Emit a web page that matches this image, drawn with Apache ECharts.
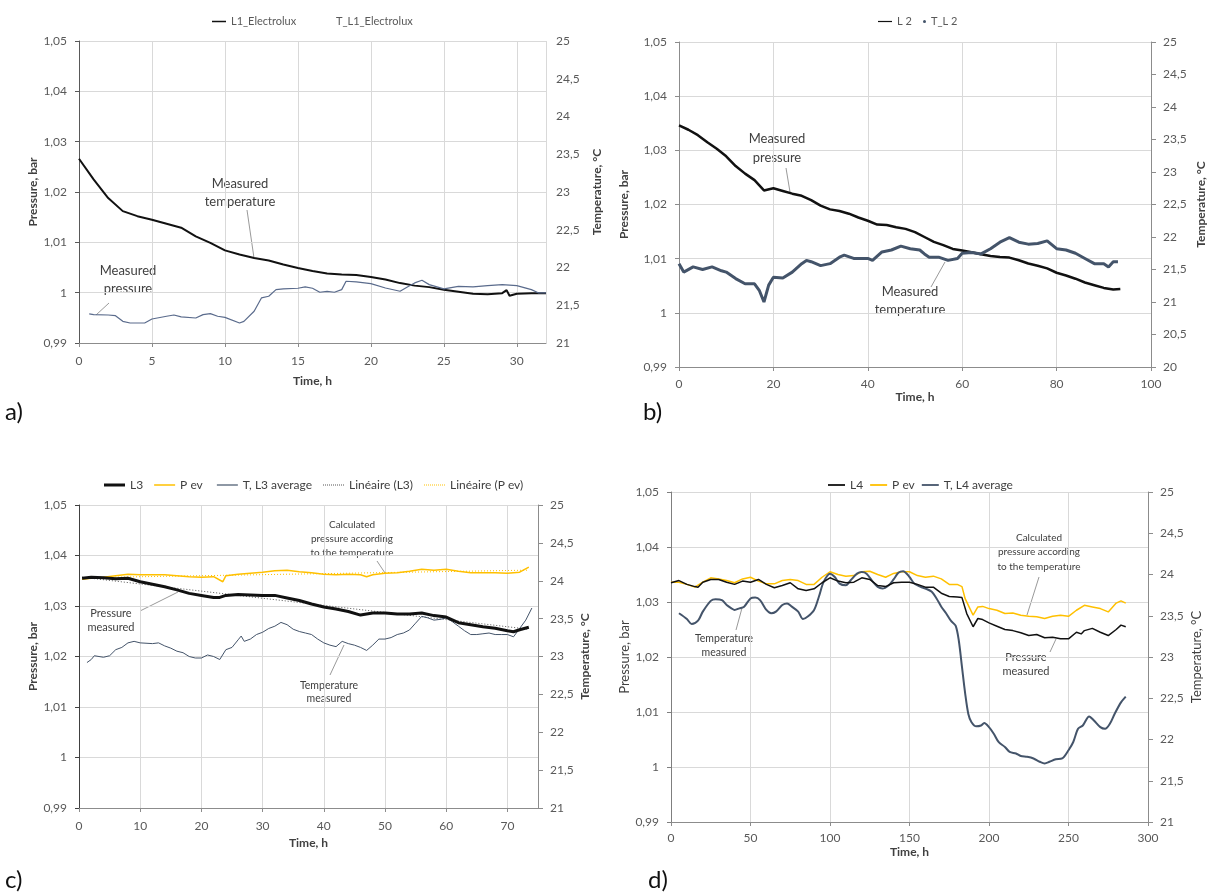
<!DOCTYPE html>
<html>
<head>
<meta charset="utf-8">
<title>Pressure and temperature in four leak tests</title>
<script src="https://cdn.jsdelivr.net/npm/echarts@6/dist/echarts.min.js"></script>
<style>
  html, body { margin: 0; padding: 0; background: #fff; }
  #chart { width: 1208px; height: 895px; }
</style>
</head>
<body>
<div id="chart"></div>
<script>
// a) L1_Electrolux
const aPressTime = [0,1,2,3,4,5,6,7,8,9,10,11,12,13,14,15,16,17,18,19,20,21,22,23,24,25,26,27,28,29,29.3,29.5,30,31,32];
const aPress = [1.0266,1.0225,1.0188,1.0162,1.0152,1.0145,1.0137,1.0129,1.0112,1.0099,1.0084,1.0076,1.0069,1.0064,1.0056,1.0049,1.0043,1.0038,1.0036,1.0035,1.0031,1.0026,1.0019,1.0014,1.0011,1.0006,1.0002,0.9998,0.9997,0.9999,1.0005,0.9994,0.9998,0.9999,0.9999];
const aTempTime = [0.7,1,2,2.5,3,3.5,4,4.5,5,6,6.5,7,8,8.5,9,9.5,10,11,11.3,12,12.5,13,13.5,14,15,15.5,16,16.5,17,17.5,18,18.3,19,20,21,22,22.5,23,23.5,24,25,26,27,28,29,30,31,31.5,32];
const aTemp = [21.385,21.376,21.371,21.362,21.287,21.265,21.265,21.265,21.318,21.354,21.371,21.345,21.331,21.376,21.389,21.354,21.340,21.265,21.287,21.42,21.597,21.619,21.707,21.716,21.725,21.743,21.725,21.672,21.685,21.672,21.707,21.818,21.809,21.787,21.729,21.685,21.743,21.796,21.831,21.773,21.716,21.751,21.743,21.76,21.773,21.76,21.707,21.663,21.663];

// b) L 2
const bPressTime = [0,2,4,6,8,10,12,14,16,18,20,22,24,26,28,30,32,34,36,38,40,42,44,46,48,50,52,54,56,58,60,62,64,66,68,70,72,74,76,78,80,82,84,86,88,90,92,93.5];
const bPress = [1.0346,1.0338,1.0328,1.0315,1.0303,1.0289,1.0271,1.0257,1.0245,1.0226,1.0230,1.0225,1.0220,1.0216,1.0208,1.0198,1.0191,1.0188,1.0183,1.0176,1.0170,1.0163,1.0162,1.0158,1.0155,1.0149,1.0140,1.0131,1.0125,1.0118,1.0115,1.0112,1.0108,1.0105,1.0103,1.0102,1.0097,1.0091,1.0087,1.0082,1.0074,1.0069,1.0063,1.0056,1.0051,1.0046,1.0043,1.0044];
const bTempTime = [0,1,3,5,7,9,10,12,14,16,17,18,19,20,22,24,26,27,28,30,32,34,35,37,40,41,43,45,47,49,51,52,53,55,57,59,60,62,64,66,68,70,72,74,76,78,80,82,84,86,88,90,91,92,93];
const bTemp = [21.59,21.46,21.54,21.50,21.54,21.48,21.46,21.36,21.28,21.28,21.18,21.0,21.26,21.38,21.37,21.46,21.59,21.64,21.62,21.56,21.59,21.69,21.72,21.67,21.67,21.64,21.77,21.80,21.86,21.82,21.80,21.74,21.69,21.69,21.64,21.67,21.75,21.76,21.74,21.82,21.92,21.99,21.92,21.89,21.90,21.94,21.82,21.80,21.75,21.67,21.59,21.59,21.54,21.62,21.62];

// c) L3
const cPressTime = [0.5,2,4,6,8,10,12,14,16,18,20,22,23,24,26,28,30,32,34,36,38,40,42,44,46,47,48,50,52,54,56,58,60,62,64,66,68,70,71,72,73.5];
const cPress = [1.0355,1.0357,1.0356,1.0354,1.0355,1.0348,1.0343,1.0338,1.0332,1.0325,1.0321,1.0317,1.0317,1.0321,1.0323,1.0322,1.0321,1.0321,1.0316,1.0311,1.0304,1.0298,1.0294,1.0289,1.0282,1.0284,1.0286,1.0286,1.0284,1.0284,1.0286,1.0281,1.0278,1.0267,1.0263,1.0259,1.0256,1.0251,1.0249,1.0253,1.0258];
const cEvTime = [0.5,2,4,6,8,10,12,14,16,18,20,22,23.5,24,26,28,30,32,34,36,38,40,42,44,46,47,48,50,52,54,56,58,60,62,64,66,68,70,72,73.5];
const cEv = [1.0353,1.0355,1.0357,1.0360,1.0363,1.0362,1.0362,1.0362,1.0360,1.0358,1.0357,1.0358,1.0348,1.0360,1.0363,1.0365,1.0367,1.0370,1.0371,1.0368,1.0366,1.0363,1.0362,1.0363,1.0362,1.0358,1.0362,1.0365,1.0366,1.0369,1.0373,1.0371,1.0373,1.0369,1.0366,1.0366,1.0366,1.0365,1.0367,1.0377];
const cTempTime = [1.3,2,2.5,4,5,6,7,8,9,10,12,13,14,15,16,17,18,19,20,21,22,23,24,25,26,26.5,27,28,29,30,31,32,33,34,35,36,37,38,39,40,41,42,43,44,45,46,47,48,49,50,51,52,53,54,55,56,57,58,59,60,61,62,63,64,65,66,67,68,69,70,71,72,73,74];
const cTemp = [22.92,22.96,23.01,22.99,23.01,23.09,23.12,23.18,23.20,23.18,23.17,23.18,23.14,23.11,23.07,23.05,23.00,22.98,22.98,23.02,23.00,22.96,23.09,23.12,23.22,23.27,23.20,23.23,23.29,23.32,23.37,23.40,23.45,23.42,23.36,23.33,23.31,23.29,23.23,23.18,23.15,23.13,23.20,23.17,23.15,23.12,23.08,23.15,23.23,23.23,23.25,23.29,23.31,23.35,23.44,23.53,23.51,23.48,23.49,23.51,23.46,23.40,23.34,23.29,23.29,23.30,23.31,23.29,23.29,23.29,23.26,23.37,23.48,23.64];
const cTrendTime = [0.5,73.5];
const cTrendL3 = [1.0357,1.0254];
const cTrendEv = [1.0356,1.0371];

// d) L4
const dPressTime = [0,5,10,15,17,20,25,30,35,40,45,50,55,60,65,70,75,80,85,90,95,100,105,110,115,120,125,130,135,140,145,150,155,160,165,170,175,180,183,186,190,193,196,200,205,210,215,220,225,230,235,240,245,250,255,258,260,265,270,275,280,283,286];
const dPress = [1.0335,1.0339,1.0332,1.0328,1.0327,1.0336,1.0341,1.0341,1.0336,1.0332,1.0338,1.0336,1.0341,1.0332,1.0326,1.0330,1.0335,1.0324,1.0321,1.0324,1.0335,1.0344,1.0338,1.0335,1.0336,1.0344,1.0341,1.0330,1.0328,1.0335,1.0336,1.0336,1.0332,1.0327,1.0327,1.0316,1.0310,1.0309,1.0308,1.0279,1.0255,1.0270,1.0268,1.0262,1.0256,1.0250,1.0248,1.0244,1.0239,1.0241,1.0235,1.0236,1.0233,1.0233,1.0245,1.0242,1.0248,1.0252,1.0245,1.0239,1.0250,1.0258,1.0255];
const dEvTime = [0,5,10,15,20,25,30,35,40,45,50,55,60,65,70,75,80,85,90,95,100,105,110,115,120,125,130,135,140,145,150,155,160,165,170,175,180,183,185,188,190,193,196,200,205,210,215,220,225,230,235,240,245,250,255,260,265,270,275,280,283,286];
const dEv = [1.0336,1.0336,1.0332,1.0327,1.0336,1.0344,1.0342,1.0339,1.0335,1.0342,1.0345,1.0338,1.0333,1.0333,1.0339,1.0341,1.0339,1.0332,1.0332,1.0345,1.0355,1.0350,1.0347,1.0348,1.0355,1.0356,1.0350,1.0345,1.0352,1.0355,1.0355,1.0348,1.0345,1.0347,1.0342,1.0332,1.0332,1.0328,1.0306,1.0288,1.0276,1.0291,1.0292,1.0288,1.0285,1.0279,1.0280,1.0276,1.0274,1.0273,1.0270,1.0274,1.0276,1.0274,1.0285,1.0294,1.0291,1.0288,1.0282,1.0298,1.0302,1.0298];
const dTempTime = [5,10,13,17,20,25,28,32,35,38,40,43,46,50,53,56,60,63,66,70,73,76,80,83,86,90,93,96,100,103,106,110,113,117,120,123,127,130,133,137,140,143,146,150,153,157,160,164,167,170,173,176,179,181,183,185,187,189,192,195,197,200,203,206,210,213,217,220,224,228,232,235,238,242,246,250,253,256,259,263,266,270,273,276,279,283,286];
const dTemp = [23.53,23.46,23.40,23.44,23.55,23.68,23.70,23.69,23.63,23.59,23.57,23.59,23.61,23.71,23.72,23.69,23.57,23.53,23.55,23.63,23.65,23.61,23.55,23.46,23.49,23.57,23.73,23.91,24.01,23.97,23.89,23.87,23.93,24.01,24.03,24.01,23.91,23.85,23.83,23.87,23.94,24.02,24.04,23.97,23.89,23.85,23.83,23.79,23.71,23.61,23.53,23.44,23.38,23.20,22.88,22.56,22.31,22.21,22.16,22.17,22.20,22.15,22.07,21.97,21.91,21.85,21.83,21.80,21.79,21.77,21.73,21.71,21.73,21.76,21.77,21.87,21.97,22.13,22.17,22.28,22.23,22.15,22.13,22.19,22.31,22.45,22.52];

const FONT = 'Lato, "Liberation Sans", sans-serif';
const BLACK = '#111111';
const YELLOW = '#ffc000';
const SLATE = '#44546a';

const zip = (xs, ys) => xs.map((x, i) => [x, ys[i]]);
const comma = v => String(+(+v).toFixed(2)).replace('.', ',');

// legend icons drawn as plain strokes, no marker
const bar = (w, h) => 'path://M0,0h' + w + 'v' + h + 'h-' + w + 'z';
function dots(w) {
  let p = 'path://';
  for (let i = 0; i < w; i += 2) p += 'M' + i + ',0h1v1h-1z';
  return p;
}

function timeAxis(grid, max, interval, nameGap, margin, hideMax) {
  return {
    type: 'value', gridIndex: grid, min: 0, max: max, interval: interval,
    name: 'Time, h', nameLocation: 'middle', nameGap: nameGap,
    nameTextStyle: { fontFamily: FONT, fontWeight: 'bold', fontSize: 12, color: '#404040' },
    axisLine: { show: true, onZero: false, lineStyle: { color: '#8c8c8c' } },
    axisTick: { show: true, length: 4, lineStyle: { color: '#8c8c8c' } },
    axisLabel: { margin: margin, color: '#595959', fontFamily: FONT, fontSize: 12, showMaxLabel: !hideMax },
    splitLine: { show: true, lineStyle: { color: '#d9d9d9' } }
  };
}

function pressAxis(grid, nameGap, lineColor, bold) {
  return {
    type: 'value', gridIndex: grid, position: 'left', min: 0.99, max: 1.05, interval: 0.01,
    name: 'Pressure, bar', nameLocation: 'middle', nameGap: nameGap,
    nameTextStyle: { fontFamily: FONT, fontWeight: bold ? 'bold' : 'normal', fontSize: bold ? 12 : 13, color: '#404040' },
    axisLine: { show: true, onZero: false, lineStyle: { color: lineColor } },
    axisTick: { show: true, length: 4, lineStyle: { color: lineColor } },
    axisLabel: { margin: 12, color: '#595959', fontFamily: FONT, fontSize: 12, formatter: comma },
    splitLine: { show: true, lineStyle: { color: '#d9d9d9' } }
  };
}

function tempAxis(grid, min, nameGap, showLine, bold) {
  return {
    type: 'value', gridIndex: grid, position: 'right', min: min, max: 25, interval: 0.5,
    name: 'Temperature, °C', nameLocation: 'middle', nameGap: nameGap,
    nameTextStyle: { fontFamily: FONT, fontWeight: bold ? 'bold' : 'normal', fontSize: bold ? 12 : 13, color: '#404040' },
    axisLine: { show: showLine, onZero: false, lineStyle: { color: '#8c8c8c' } },
    axisTick: { show: showLine, length: 5, lineStyle: { color: '#8c8c8c' } },
    axisLabel: { margin: showLine ? 12 : 10, color: '#595959', fontFamily: FONT, fontSize: 12, formatter: comma },
    splitLine: { show: false }
  };
}

function line(name, xi, yi, data, color, width, extra) {
  return Object.assign({
    type: 'line', name: name, xAxisIndex: xi, yAxisIndex: yi, data: data,
    symbol: 'none', silent: true,
    lineStyle: { color: color, width: width },
    itemStyle: { color: color }
  }, extra || {});
}

function note(x, y, text, size, lh) {
  return {
    type: 'text', x: x, y: y, silent: true,
    style: { text: text, fill: '#404040', fontFamily: FONT, fontSize: size, lineHeight: lh,
      align: 'center', verticalAlign: 'middle' }
  };
}
function lead(x1, y1, x2, y2) {
  return { type: 'line', silent: true, shape: { x1: x1, y1: y1, x2: x2, y2: y2 },
    style: { stroke: '#7f7f7f', lineWidth: 0.8 } };
}
function tag(x, y, text) {
  return { type: 'text', x: x, y: y, silent: true,
    style: { text: text, fill: '#111', fontFamily: FONT, fontSize: 24, verticalAlign: 'middle' } };
}

const legendText = { fontFamily: FONT, fontSize: 11, color: '#595959' };
const legendText12 = { fontFamily: FONT, fontSize: 12, color: '#404040' };

const chart = echarts.init(document.getElementById('chart'));
chart.setOption({
  animation: false,
  backgroundColor: '#ffffff',
  textStyle: { fontFamily: FONT },
  grid: [
    { left: 79, top: 41, width: 467, height: 302 },
    { left: 679, top: 42, width: 472, height: 325 },
    { left: 79, top: 505, width: 459, height: 303 },
    { left: 671, top: 492, width: 477, height: 330 }
  ],
  xAxis: [
    timeAxis(0, 32, 5, 32, 12, true),
    timeAxis(1, 100, 20, 15, 11, false),
    timeAxis(2, 75, 10, 29, 12, true),
    timeAxis(3, 300, 50, 24, 10, false)
  ],
  yAxis: [
    pressAxis(0, 40, '#595959', true),
    tempAxis(0, 21, 45, false, true),
    pressAxis(1, 49, '#8c8c8c', true),
    tempAxis(1, 20, 44, true, true),
    pressAxis(2, 39, '#404040', true),
    tempAxis(2, 21, 41, true, true),
    pressAxis(3, 39, '#7f7f7f', false),
    tempAxis(3, 21, 42, true, false)
  ],
  legend: [
    { left: 207, top: 11, itemWidth: 14, itemHeight: 8, textStyle: legendText,
      data: [{ name: 'L1_Electrolux', icon: bar(14, 1.5) }] },
    { left: 322, top: 11, itemWidth: 4, itemHeight: 8, textStyle: legendText,
      data: [{ name: 'T_L1_Electrolux', icon: 'none' }] },
    { left: 873, top: 11, itemWidth: 14, itemHeight: 8, textStyle: legendText,
      data: [{ name: 'L 2', icon: bar(14, 1.2) }] },
    { left: 918, top: 11, itemWidth: 3, itemHeight: 3, textStyle: legendText,
      data: [{ name: 'T_L 2', icon: 'circle' }] },
    { left: 99, top: 474, itemWidth: 21, itemHeight: 8, itemGap: 11, textStyle: legendText12,
      data: [
        { name: 'L3', icon: bar(21, 3) },
        { name: 'P ev ', icon: bar(21, 1.5) },
        { name: 'T, L3 average', icon: bar(21, 1.2) },
        { name: 'Linéaire (L3)', icon: dots(21) },
        { name: 'Linéaire (P ev)', icon: dots(21) }
      ] },
    { left: 823, top: 474, itemWidth: 17, itemHeight: 8, itemGap: 7, textStyle: legendText12,
      data: [
        { name: 'L4', icon: bar(17, 1.8) },
        { name: 'P ev', icon: bar(17, 1.8) },
        { name: 'T, L4 average', icon: bar(17, 1.8) }
      ] }
  ],
  series: [
    line('L1_Electrolux', 0, 0, zip(aPressTime, aPress), BLACK, 2),
    line('T_L1_Electrolux', 0, 1, zip(aTempTime, aTemp), '#5a6b8c', 1.2),

    line('L 2', 1, 2, zip(bPressTime, bPress), BLACK, 2.5),
    line('T_L 2', 1, 3, zip(bTempTime, bTemp), SLATE, 3),

    line('Linéaire (L3)', 2, 4, zip(cTrendTime, cTrendL3), '#555555', 1, { lineStyle: { color: '#555555', width: 1, type: [1, 2] } }),
    line('Linéaire (P ev)', 2, 4, zip(cTrendTime, cTrendEv), YELLOW, 1, { lineStyle: { color: YELLOW, width: 1, type: [1, 2] } }),
    line('P ev ', 2, 4, zip(cEvTime, cEv), YELLOW, 1.5),
    line('T, L3 average', 2, 5, zip(cTempTime, cTemp), SLATE, 1),
    line('L3', 2, 4, zip(cPressTime, cPress), BLACK, 3),

    line('P ev', 3, 6, zip(dEvTime, dEv), YELLOW, 1.5),
    line('T, L4 average', 3, 7, zip(dTempTime, dTemp), SLATE, 2, { smooth: 0.3 }),
    line('L4', 3, 6, zip(dPressTime, dPress), BLACK, 1.5)
  ],
  graphic: [
    note(240, 193, 'Measured\ntemperature', 13, 18), lead(247, 210, 254, 258),
    note(128, 280, 'Measured\npressure', 13, 18), lead(109, 303, 96, 315),
    note(777, 148, 'Measured\npressure', 13, 19), lead(786, 168, 790, 192),
    note(910, 301, 'Measured\ntemperature', 13, 18), lead(931, 287, 945, 262),
    note(352, 539, 'Calculated\npressure according\nto the temperature', 10, 14), lead(377, 561, 385, 573),
    note(111, 620, 'Pressure\nmeasured', 11, 14), lead(140, 611, 178, 592),
    note(329, 692, 'Temperature\nmeasured', 10.5, 13), lead(330, 675, 344, 645),
    note(1039, 552, 'Calculated\npressure according\nto the temperature', 10, 14.5), lead(1039, 577, 1027, 615),
    note(1026, 664, 'Pressure\nmeasured', 11, 14), lead(1050, 652, 1056, 639),
    note(724, 646, 'Temperature\nmeasured', 10.5, 14), lead(736, 630, 742, 608),
    tag(5, 412, 'a)'), tag(643, 412, 'b)'), tag(5, 880, 'c)'), tag(648, 880, 'd)')
  ]
});
</script>
</body>
</html>
